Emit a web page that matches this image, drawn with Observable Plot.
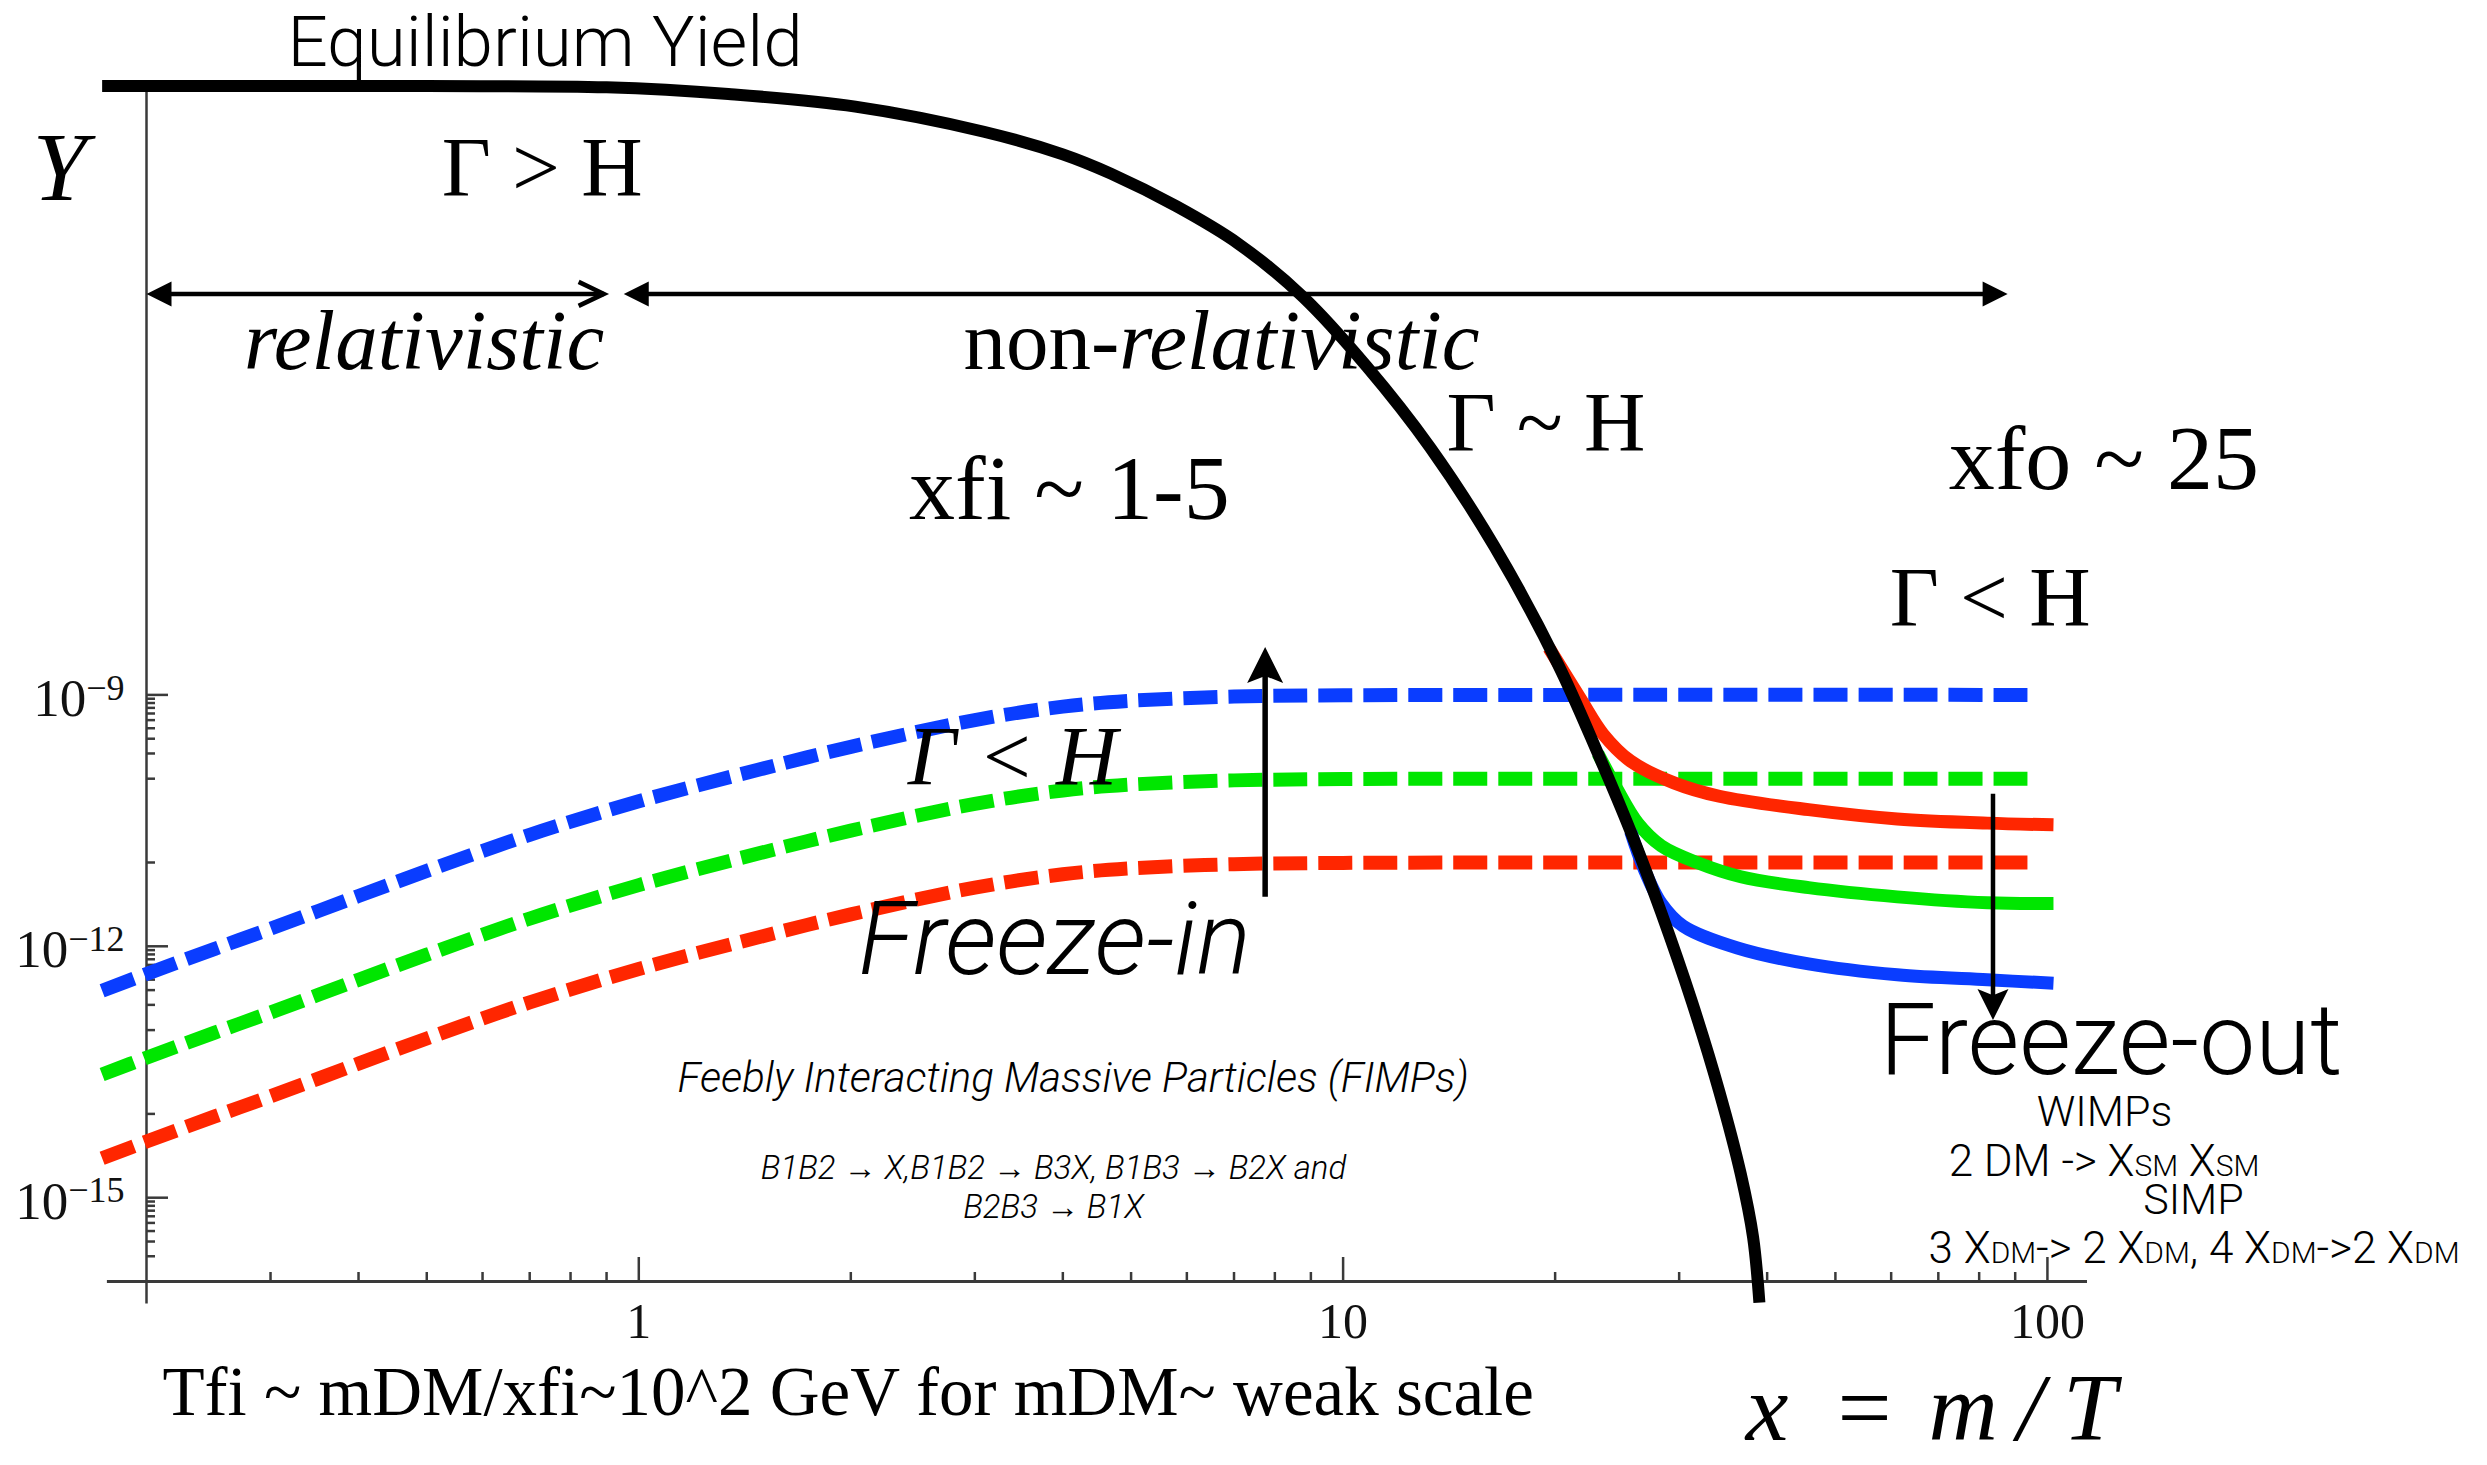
<!DOCTYPE html>
<html>
<head>
<meta charset="utf-8">
<script src="https://cdn.jsdelivr.net/npm/d3@7"></script>
<script src="https://cdn.jsdelivr.net/npm/@observablehq/plot@0.6"></script>
<style>
  html, body { margin: 0; padding: 0; background: #fff; }
  svg { display: block; }
</style>
</head>
<body>
<div id="chart"></div>
<script>
// ---- scale extents (x = m/T, Y = yield) ----
const xDomain = [0.2, 114];
const yDomain = [1e-16, 1.82e-2];
const xAxisSpan = [0.176, 114];
const yAxisSpan = [5.4e-17, 1.82e-2];

// ---- equilibrium yield ----
const eqX = [0.173, 0.5, 0.9, 1.34, 2.03, 3.09, 4.0, 4.68, 5.8, 7.11, 8.77, 10.8, 13.3, 16.4, 20.2, 23.0, 25.6, 28.3, 31.3, 34.2, 36.7, 38.2, 39.0];
const eqY = [1.849e-2, 1.841e-2, 1.778e-2, 1.479e-2, 1.047e-2, 5.25e-3, 2.82e-3, 1.66e-3, 6.76e-4, 2.40e-4, 5.62e-5, 8.32e-6, 8.91e-7, 5.89e-8, 2.29e-9, 2.0e-10, 2.34e-11, 2.51e-12, 2.14e-13, 1.86e-14, 1.91e-15, 3.39e-16, 5.6e-17];

// ---- freeze-in yields (dashed) ----
const fiX = [0.173, 0.2, 0.25, 0.3, 0.4, 0.5, 0.7, 1, 1.5, 2, 3, 4, 5, 7, 10, 20, 95];
const fiBlue = [2.95e-13, 4.68e-13, 9.33e-13, 1.62e-12, 3.98e-12, 7.94e-12, 2.14e-11, 5.37e-11, 1.32e-10, 2.40e-10, 5.01e-10, 7.24e-10, 8.51e-10, 9.55e-10, 9.89e-10, 1.0e-9, 1.0e-9];
const fiGreen = [2.95e-14, 4.68e-14, 9.33e-14, 1.62e-13, 3.98e-13, 7.94e-13, 2.14e-12, 5.37e-12, 1.32e-11, 2.40e-11, 5.01e-11, 7.24e-11, 8.51e-11, 9.55e-11, 9.89e-11, 1.0e-10, 1.0e-10];
const fiRed = [2.95e-15, 4.68e-15, 9.33e-15, 1.62e-14, 3.98e-14, 7.94e-14, 2.14e-13, 5.37e-13, 1.32e-12, 2.40e-12, 5.01e-12, 7.24e-12, 8.51e-12, 9.55e-12, 9.89e-12, 1.0e-11, 1.0e-11];

// ---- freeze-out yields (solid) ----
const foRedX = [19.6, 21.7, 23.4, 25.6, 29.5, 34.2, 45.8, 61.2, 82.2, 102];
const foRedY = [3.63e-9, 9.12e-10, 3.39e-10, 1.62e-10, 8.91e-11, 6.17e-11, 4.27e-11, 3.31e-11, 2.95e-11, 2.82e-11];
const foGreenX = [23.0, 24.4, 26.2, 28.3, 31.8, 36.7, 45.8, 61.2, 82.2, 102];
const foGreenY = [2.0e-10, 7.94e-11, 2.95e-11, 1.58e-11, 1.0e-11, 6.76e-12, 5.01e-12, 3.89e-12, 3.31e-12, 3.24e-12];
const foBlueX = [25.6, 26.7, 28.3, 30.4, 36.3, 45.8, 61.2, 82.2, 102];
const foBlueY = [2.34e-11, 8.71e-12, 3.24e-12, 1.74e-12, 9.55e-13, 6.17e-13, 4.57e-13, 3.98e-13, 3.63e-13];

// ---- ticks ----
const xMajor = [1, 10, 100];
const xMinor = [0.3, 0.4, 0.5, 0.6, 0.7, 0.8, 0.9, 2, 3, 4, 5, 6, 7, 8, 9, 20, 30, 40, 50, 60, 70, 80, 90];
const yMajor = [1e-9, 1e-12, 1e-15];
const yMinor = [9e-10, 8e-10, 7e-10, 6e-10, 5e-10, 4e-10, 3e-10, 2e-10, 1e-10, 1e-11,
                9e-13, 8e-13, 7e-13, 6e-13, 5e-13, 4e-13, 3e-13, 2e-13, 1e-13, 1e-14,
                9e-16, 8e-16, 7e-16, 6e-16, 5e-16, 4e-16, 3e-16, 2e-16];

// ---- arrows (data space) ----
const spanArrows = [
  {x1: 0.2, x2: 0.892, y: 6.1e-5},
  {x1: 0.952, x2: 87.8, y: 6.1e-5}
];
const freezeInArrow = [{x: 7.75, y1: 3.89e-12, y2: 3.72e-9}];
const freezeOutArrow = [{x: 83.7, y1: 6.61e-11, y2: 1.32e-13}];

// ---- annotations: text and data anchor ----
// markup: *{..} italic, _{..} small, ^{..} superscript
const annotations = [
  {key: "eqTitle", text: "Equilibrium Yield", x: 0.317, y: 3.24e-2},
  {key: "yLabel", text: "Y", x: 0.1378, y: 7.94e-4},
  {key: "serif", text: "Γ > H", x: 0.525, y: 9.1e-4},
  {key: "serifIt", text: "relativistic", x: 0.275, y: 7.7e-6},
  {key: "serif", text: "non-*{relativistic}", x: 2.89, y: 7.7e-6},
  {key: "serif", text: "Γ ~ H", x: 14.02, y: 8.04e-7},
  {key: "serifBig", text: "xfi ~ 1-5", x: 2.42, y: 1.27e-7},
  {key: "serifBig", text: "xfo ~ 25", x: 72.4, y: 2.90e-7},
  {key: "serif", text: "Γ < H", x: 59.7, y: 6.55e-9},
  {key: "serifIt", text: "Γ < H", x: 2.41, y: 8.3e-11},
  {key: "freezeIn", text: "Freeze-in", x: 2.05, y: 4.73e-13},
  {key: "freezeOut", text: "Freeze-out", x: 57.8, y: 3.03e-14},
  {key: "smallMid", text: "WIMPs", x: 120.5, y: 7.08e-15},
  {key: "small", text: "2 DM -> X_{SM} X_{SM}", x: 72.4, y: 1.84e-15},
  {key: "smallMid", text: "SIMP", x: 161.2, y: 6.47e-16},
  {key: "small", text: "3 X_{DM}-> 2 X_{DM}, 4 X_{DM}->2 X_{DM}", x: 67.8, y: 1.64e-16},
  {key: "fimps", text: "Feebly Interacting Massive Particles (FIMPs)", x: 1.135, y: 1.85e-14},
  {key: "process", text: "B1B2 → X,B1B2 → B3X, B1B3 → B2X and\nB2B3 → B1X", x: 3.88, y: 5.65e-16},
  {key: "caption", text: "Tfi ~ mDM/xfi~10^2 GeV for mDM~ weak scale", x: 0.2107, y: 2.52e-18},
  {key: "xLabelIt", text: "x", x: 37.3, y: 1.27e-18},
  {key: "xLabelEq", text: "=", x: 55.0, y: 1.27e-18},
  {key: "xLabelIt", text: "m\u2009/\u2009T", x: 67.8, y: 1.27e-18}
];

// ---- styling ----
const serif = "'Liberation Serif', 'Times New Roman', Times, serif";
const sans = "Roboto, 'Liberation Sans', Arial, sans-serif";
const colors = {blue: "#0a3dff", green: "#00e600", red: "#ff2600"};
const axisColor = "#3a3a3a";

const labelStyle = {
  eqTitle:   {fontFamily: sans, fontWeight: 300, fontSize: 71},
  yLabel:    {fontFamily: serif, fontStyle: "italic", fontSize: 98},
  serif:     {fontFamily: serif, fontSize: 85},
  serifIt:   {fontFamily: serif, fontStyle: "italic", fontSize: 85},
  serifBig:  {fontFamily: serif, fontSize: 92},
  freezeIn:  {fontFamily: sans, fontWeight: 300, fontStyle: "italic", fontSize: 102},
  freezeOut: {fontFamily: sans, fontWeight: 300, fontSize: 100},
  small:     {fontFamily: sans, fontWeight: 300, fontSize: 44},
  smallMid:  {fontFamily: sans, fontWeight: 300, fontSize: 43, textAnchor: "middle"},
  fimps:     {fontFamily: sans, fontWeight: 300, fontStyle: "italic", fontSize: 42},
  process:   {fontFamily: sans, fontWeight: 300, fontStyle: "italic", fontSize: 33, textAnchor: "middle", lineHeight: 1.2},
  caption:   {fontFamily: serif, fontSize: 69},
  xLabelIt:  {fontFamily: serif, fontStyle: "italic", fontSize: 96},
  xLabelEq:  {fontFamily: serif, fontSize: 96, textAnchor: "middle"}
};

// ---- arrowhead shapes (tip at origin, pointing right) ----
const headFilled = {draw(ctx, size) {
  const r = Math.sqrt(size / Math.PI);
  ctx.moveTo(0, 0); ctx.lineTo(-2 * r, -r); ctx.lineTo(-2 * r, r); ctx.closePath();
}};
const headStealth = {draw(ctx, size) {
  const r = Math.sqrt(size / Math.PI);
  ctx.moveTo(0, 0); ctx.lineTo(-2 * r, -r); ctx.lineTo(-1.6 * r, 0); ctx.lineTo(-2 * r, r); ctx.closePath();
}};
const headOpen = {draw(ctx, size) {
  const r = Math.sqrt(size / Math.PI);
  ctx.moveTo(-2.1 * r, -r); ctx.lineTo(0, 0); ctx.lineTo(-2.1 * r, r);
}};

const pts = (xs, ys) => xs.map((x, i) => ({x, y: ys[i]}));

const dashed = (ys, color) => Plot.line(pts(fiX, ys), {
  x: "x", y: "y", stroke: color, strokeWidth: 14, strokeDasharray: "34,11",
  strokeLinecap: "butt", curve: "catmull-rom"
});
const solid = (xs, ys, color) => Plot.line(pts(xs, ys), {
  x: "x", y: "y", stroke: color, strokeWidth: 13, strokeLinecap: "butt", curve: "catmull-rom"
});

const textMarks = annotations.map(d => {
  const s = labelStyle[d.key];
  return Plot.text([d], {
    x: "x", y: "y", text: "text",
    textAnchor: s.textAnchor || "start",
    lineAnchor: "bottom",
    lineHeight: s.lineHeight || 1,
    fontFamily: s.fontFamily,
    fontSize: s.fontSize,
    fontStyle: s.fontStyle || "normal",
    fontWeight: s.fontWeight || "normal",
    fill: "#000"
  });
});

const supFormat = d => "10^{" + String(Math.round(Math.log10(d))).replace("-", "−") + "}";

const chart = Plot.plot({
  width: 2487,
  height: 1465,
  marginLeft: 146,
  marginRight: 400,
  marginTop: 86,
  marginBottom: 184,
  x: {type: "log", domain: xDomain},
  y: {type: "log", domain: yDomain},
  style: {background: "#fff", maxWidth: "none", fontFamily: serif},
  marks: [
    // axis lines, crossing at (0.2, 1e-16)
    Plot.ruleY([{y: yDomain[0], x1: xAxisSpan[0], x2: xAxisSpan[1]}], {y: "y", x1: "x1", x2: "x2", stroke: axisColor, strokeWidth: 3}),
    Plot.ruleX([{x: xDomain[0], y1: yAxisSpan[0], y2: yAxisSpan[1]}], {x: "x", y1: "y1", y2: "y2", stroke: axisColor, strokeWidth: 2.5}),
    // inward ticks
    Plot.axisX(xMinor, {tickSize: -9, fill: null, stroke: axisColor, strokeWidth: 2.5, label: null}),
    Plot.axisX(xMajor, {tickSize: -24, fill: null, stroke: axisColor, strokeWidth: 2.5, label: null}),
    Plot.axisX(xMajor, {tickSize: 0, tickPadding: 56, lineAnchor: "bottom", fontSize: 50, fontFamily: serif, fill: "#111", tickFormat: d => String(d), label: null}),
    Plot.axisY(yMinor, {tickSize: -9, fill: null, stroke: axisColor, strokeWidth: 2.5, label: null}),
    Plot.axisY(yMajor, {tickSize: -22, fill: null, stroke: axisColor, strokeWidth: 2.5, label: null}),
    Plot.axisY(yMajor, {tickSize: 0, tickPadding: 22, lineAnchor: "bottom", dy: 21, fontSize: 53, fontFamily: serif, fill: "#111", tickFormat: supFormat, label: null}),

    // freeze-in (dashed)
    dashed(fiBlue, colors.blue),
    dashed(fiGreen, colors.green),
    dashed(fiRed, colors.red),

    // freeze-out (solid)
    solid(foRedX, foRedY, colors.red),
    solid(foGreenX, foGreenY, colors.green),
    solid(foBlueX, foBlueY, colors.blue),

    // equilibrium yield
    Plot.line(pts(eqX, eqY), {x: "x", y: "y", stroke: "#000", strokeWidth: 12, strokeLinecap: "butt", curve: "catmull-rom"}),

    // relativistic / non-relativistic span arrows
    Plot.arrow([spanArrows[0]], {x1: "x1", x2: "x2", y1: "y", y2: "y", headLength: 0, insetStart: 10, stroke: "#000", strokeWidth: 4.5, strokeLinecap: "butt"}),
    Plot.arrow([spanArrows[1]], {x1: "x1", x2: "x2", y1: "y", y2: "y", headLength: 0, insetStart: 10, insetEnd: 10, stroke: "#000", strokeWidth: 4.5, strokeLinecap: "butt"}),
    Plot.dot(spanArrows, {x: "x1", y: "y", symbol: headFilled, r: 12.5, rotate: 180, fill: "#000", stroke: "none"}),
    Plot.dot([spanArrows[0]], {x: "x2", y: "y", symbol: headOpen, r: 12, fill: "none", stroke: "#000", strokeWidth: 4.5}),
    Plot.dot([spanArrows[1]], {x: "x2", y: "y", symbol: headFilled, r: 12.5, fill: "#000", stroke: "none"}),

    // freeze-in arrow (up) and freeze-out arrow (down)
    Plot.arrow(freezeInArrow, {x1: "x", x2: "x", y1: "y1", y2: "y2", headLength: 0, insetEnd: 22, stroke: "#000", strokeWidth: 5.5, strokeLinecap: "butt"}),
    Plot.dot(freezeInArrow, {x: "x", y: "y2", symbol: headStealth, r: 18, rotate: -90, fill: "#000", stroke: "none"}),
    Plot.arrow(freezeOutArrow, {x1: "x", x2: "x", y1: "y1", y2: "y2", headLength: 0, insetEnd: 16, stroke: "#000", strokeWidth: 4.5, strokeLinecap: "butt"}),
    Plot.dot(freezeOutArrow, {x: "x", y: "y2", symbol: headStealth, r: 15.5, rotate: 90, fill: "#000", stroke: "none"}),

    ...textMarks
  ]
});

// turn the small markup into styled tspans
function richText(svg) {
  const ns = "http://www.w3.org/2000/svg";
  svg.querySelectorAll("text").forEach(t => {
    if (t.querySelector("tspan")) return;
    const s = t.textContent;
    if (!/[_^*]\{/.test(s)) return;
    t.textContent = "";
    for (const p of s.split(/([_^*]\{[^}]*\})/)) {
      if (!p) continue;
      const m = p.match(/^([_^*])\{([^}]*)\}$/);
      const ts = document.createElementNS(ns, "tspan");
      if (m) {
        ts.textContent = m[2];
        if (m[1] === "^") { ts.setAttribute("font-size", "0.68em"); ts.setAttribute("dy", "-0.45em"); }
        else if (m[1] === "_") { ts.setAttribute("font-size", "0.68em"); }
        else { ts.setAttribute("font-style", "italic"); }
      } else {
        ts.textContent = p;
      }
      t.appendChild(ts);
    }
  });
}
richText(chart);

document.getElementById("chart").appendChild(chart);
</script>
</body>
</html>
